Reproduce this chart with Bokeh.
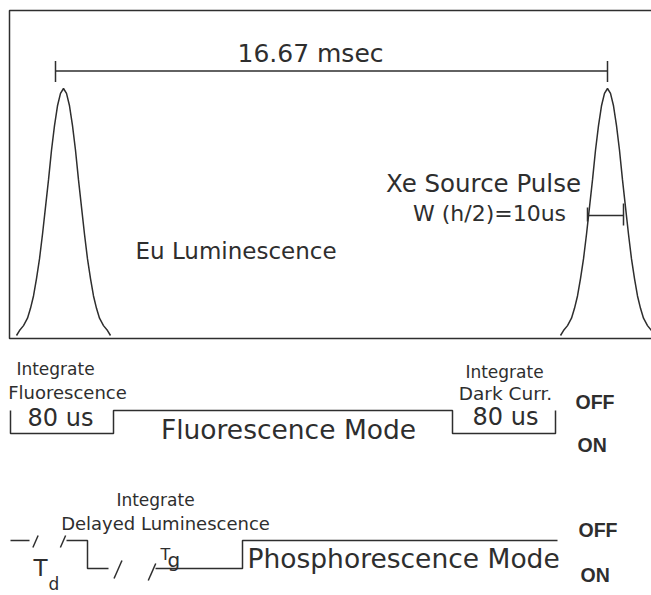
from bokeh.plotting import figure
from bokeh.models import Range1d, ColumnDataSource
from bokeh.embed import file_html
from bokeh.resources import INLINE

# ---------------- data (diagram units; y grows downward) ----------------
# Xe source pulses
pulse_peaks = [63, 607]
pulse_top = 88
pulse_base = 335
pulse_dx = [0, 3, 6, 9, 12, 15, 18, 21, 24, 27, 30, 33, 36, 40, 44, 47]
pulse_rel = [1.00, 0.98, 0.93, 0.85, 0.75, 0.63, 0.52, 0.41, 0.31, 0.23, 0.16, 0.11, 0.07, 0.04, 0.02, 0.00]

# period ruler (16.67 msec)
ruler_x = [55, 607]
ruler_y = 70.5
period_label = "16.67 msec"

# pulse half-width marker
hw_x = [587, 623]
hw_y = 215

# frame of top panel
frame_x = [9, 651]
frame_y = [10, 338]

# Fluorescence-mode gate: OFF = 1, ON = 0
fl_x = [10, 10, 113, 113, 452, 452, 555, 555]
fl_state = [1, 0, 0, 1, 1, 0, 0, 1]
fl_levels = {1: 410, 0: 433}

# Phosphorescence-mode gate (broken time axis)
ph_x = [[10, 29], [66, 87, 87, 108], [155, 242, 242, 557]]
ph_state = [[1, 1], [1, 1, 0, 0], [0, 0, 1, 1]]
ph_levels = {1: 540, 0: 568}
ph_breaks_x = [35, 62.5, 117.5, 151.5]
ph_breaks_y = [541, 541, 569, 571.5]
ph_breaks_h = [12, 12, 18, 17]

# labels: text, x, y(baseline), size(px), align, weight
labels = [
    (period_label, 310, 63, 25, "center", "normal"),
    ("Xe Source Pulse", 483, 193, 24.5, "center", "normal"),
    ("W (h/2)=10us", 489, 222, 22, "center", "normal"),
    ("Eu Luminescence", 135, 260, 23, "left", "normal"),
    ("Integrate", 55, 375, 17, "center", "normal"),
    ("Fluorescence", 67, 399, 18, "center", "normal"),
    ("80 us", 60, 427, 24, "center", "normal"),
    ("Fluorescence Mode", 288, 440, 26.5, "center", "normal"),
    ("Integrate", 504, 378, 17, "center", "normal"),
    ("Dark Curr.", 505, 400, 18.5, "center", "normal"),
    ("80 us", 505, 426, 24, "center", "normal"),
    ("OFF", 575, 409, 19.5, "left", "bold"),
    ("ON", 577, 452, 19.5, "left", "bold"),
    ("Integrate", 155, 506, 17, "center", "normal"),
    ("Delayed Luminescence", 165, 530, 18, "center", "normal"),
    ("OFF", 578, 537, 19.5, "left", "bold"),
    ("ON", 580, 582, 19.5, "left", "bold"),
    ("Phosphorescence Mode", 247, 569, 26.5, "left", "normal"),
    ("T", 33, 577, 23, "left", "normal"),
    ("d", 48, 590, 17, "left", "normal"),
    ("T", 160, 560, 16, "left", "normal"),
    ("g", 167, 567, 20, "left", "normal"),
]

INK = "#2e2e2e"
LW = 1.5

p = figure(width=651, height=595, x_range=Range1d(0, 651), y_range=Range1d(595, 0),
           output_backend="svg", toolbar_location=None, min_border=0,
           x_axis_location=None, y_axis_location=None)
p.grid.visible = False
p.outline_line_color = None
p.background_fill_color = "white"
p.border_fill_color = "white"

# frame
p.multi_line(xs=[[frame_x[1], frame_x[0], frame_x[0], frame_x[1]]],
             ys=[[frame_y[0], frame_y[0], frame_y[1], frame_y[1]]],
             line_color=INK, line_width=LW)

# pulses
span = pulse_base - pulse_top
for pk in pulse_peaks:
    xs = [pk - d for d in reversed(pulse_dx)] + [pk + d for d in pulse_dx[1:]]
    rel = list(reversed(pulse_rel)) + pulse_rel[1:]
    ys = [pulse_base - r * span for r in rel]
    p.line(xs, ys, line_color=INK, line_width=LW)

# ruler
p.multi_line(xs=[ruler_x, [ruler_x[0]] * 2, [ruler_x[1]] * 2],
             ys=[[ruler_y] * 2, [ruler_y - 10, ruler_y + 11], [ruler_y - 10, ruler_y + 11]],
             line_color=INK, line_width=LW)

# half-width marker
p.multi_line(xs=[hw_x, [hw_x[0]] * 2, [hw_x[1]] * 2],
             ys=[[hw_y] * 2, [hw_y - 8, hw_y + 6], [hw_y - 12, hw_y + 10]],
             line_color=INK, line_width=LW)

# fluorescence gate
p.line(fl_x, [fl_levels[s] for s in fl_state], line_color=INK, line_width=LW)

# phosphorescence gate
p.multi_line(xs=ph_x, ys=[[ph_levels[s] for s in seg] for seg in ph_state],
             line_color=INK, line_width=LW)
p.multi_line(xs=[[x - h * 0.22, x + h * 0.22] for x, h in zip(ph_breaks_x, ph_breaks_h)],
             ys=[[y + h / 2, y - h / 2] for y, h in zip(ph_breaks_y, ph_breaks_h)],
             line_color=INK, line_width=LW)

# labels (renderer draws the alphabetic baseline ~0.4 em low, compensate)
src = ColumnDataSource(dict(
    text=[l[0] for l in labels], x=[l[1] for l in labels],
    y=[l[2] - 0.4 * l[3] for l in labels],
    size=[f"{l[3]}px" for l in labels], align=[l[4] for l in labels],
    style=[l[5] for l in labels],
    font=["Liberation Sans" if l[5] == "bold" else "DejaVu Sans" for l in labels],
))
p.text(x="x", y="y", text="text", source=src, text_font_size="size", text_align="align",
       text_font_style="style", text_font="font", text_baseline="alphabetic", text_color=INK)

open("out.html", "w").write(file_html(p, INLINE))
